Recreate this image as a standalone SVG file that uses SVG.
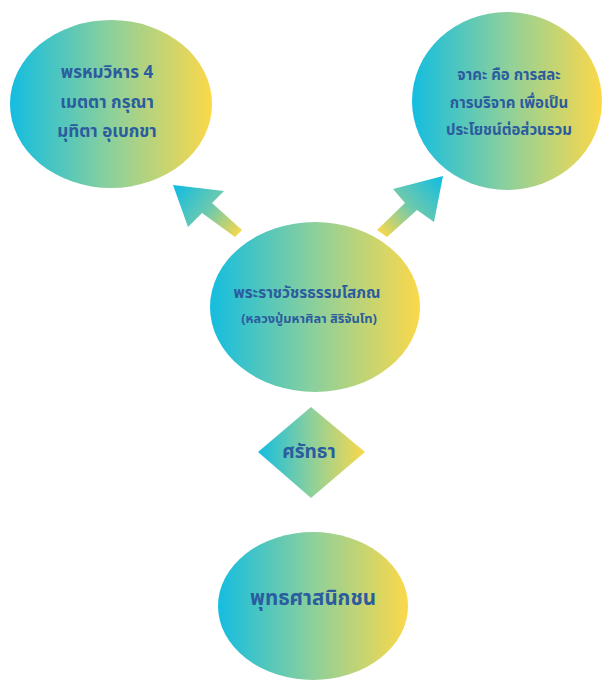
<svg xmlns="http://www.w3.org/2000/svg" width="603" height="680" viewBox="0 0 603 680">
<defs>
<linearGradient id="g" x1="0" y1="0" x2="1" y2="0">
<stop offset="0" stop-color="#14bde0"/>
<stop offset="0.5" stop-color="#8dd09b"/>
<stop offset="1" stop-color="#fbd84a"/>
</linearGradient>
<linearGradient id="ga1" gradientUnits="userSpaceOnUse" x1="176" y1="187" x2="240" y2="235">
<stop offset="0" stop-color="#14bde0"/>
<stop offset="0.5" stop-color="#6cc9ae"/>
<stop offset="1" stop-color="#fbd84a"/>
</linearGradient>
<linearGradient id="ga2" gradientUnits="userSpaceOnUse" x1="441" y1="178" x2="381" y2="235">
<stop offset="0" stop-color="#14bde0"/>
<stop offset="0.5" stop-color="#6cc9ae"/>
<stop offset="1" stop-color="#fbd84a"/>
</linearGradient>
<style>
.n{fill:url(#g);}
.t{font-family:"Noto Sans Thai","Noto Sans","DejaVu Sans",sans-serif;font-weight:bold;fill:#2a5c9e;text-anchor:middle;dominant-baseline:central;}
</style>
</defs>
<g id="connectors">
<polygon fill="url(#ga1)" points="173,185 224,191 212,203 242,230 235,237 202,213 188,227"/>
<polygon fill="url(#ga2)" points="443,176 434,222 417,210 387,237 377,230 405,203 393,189"/>
</g>
<g id="brahmavihara">
<ellipse class="n" cx="111" cy="104" rx="101" ry="84"/>
<text class="t" x="107" y="73" font-size="17">พรหมวิหาร 4</text>
<text class="t" x="107" y="103" font-size="17">เมตตา กรุณา</text>
<text class="t" x="107" y="132" font-size="17">มุทิตา อุเบกขา</text>
</g>
<g id="jaga">
<ellipse class="n" cx="507" cy="101" rx="95" ry="89"/>
<text class="t" x="509" y="75" font-size="15">จาคะ คือ การสละ</text>
<text class="t" x="509" y="103" font-size="15">การบริจาค เพื่อเป็น</text>
<text class="t" x="509" y="130" font-size="15">ประโยชน์ต่อส่วนรวม</text>
</g>
<g id="master">
<ellipse class="n" cx="315" cy="307" rx="105" ry="85"/>
<text class="t" x="307" y="293" font-size="15.4">พระราชวัชรธรรมโสภณ</text>
<text class="t" x="309" y="319" font-size="12.8">(หลวงปู่มหาศิลา สิริจันโท)</text>
</g>
<g id="faith">
<polygon class="n" points="311,407 365,452 311,498 258,452"/>
<text class="t" x="309" y="452" font-size="19">ศรัทธา</text>
</g>
<g id="buddhists">
<ellipse class="n" cx="313" cy="606" rx="95" ry="74"/>
<text class="t" x="313" y="598" font-size="20.5">พุทธศาสนิกชน</text>
</g>
</svg>
